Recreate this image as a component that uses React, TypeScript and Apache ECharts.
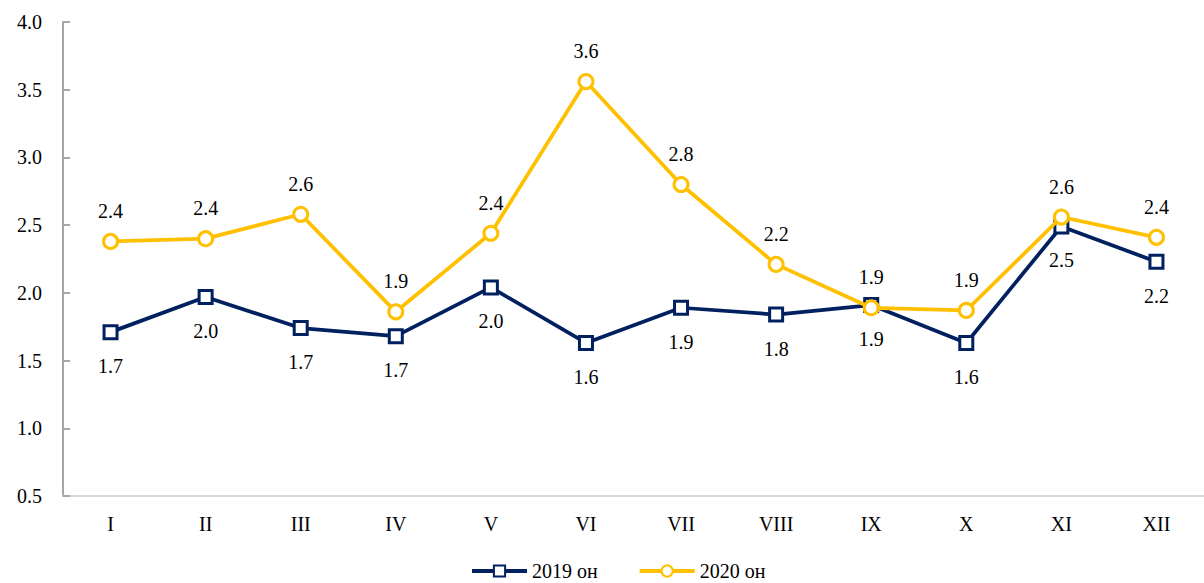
import React, { useEffect, useRef } from "react";
import * as echarts from "echarts";

const categories = ["I", "II", "III", "IV", "V", "VI", "VII", "VIII", "IX", "X", "XI", "XII"];
const series2019 = [1.71, 1.97, 1.74, 1.68, 2.04, 1.63, 1.89, 1.84, 1.91, 1.63, 2.49, 2.23];
const series2020 = [2.38, 2.4, 2.58, 1.86, 2.44, 3.56, 2.8, 2.21, 1.89, 1.87, 2.56, 2.41];
const yTicks = { min: 0.5, max: 4.0, interval: 0.5 };

const NAVY = "#002060";
const GOLD = "#ffc000";
const FONT = "Liberation Serif";

export default function App() {
  const ref = useRef<HTMLDivElement>(null);
  useEffect(() => {
    if (!ref.current) return;
    const chart = echarts.init(ref.current, null, { renderer: "svg" });
    chart.setOption({
      animation: false,
      textStyle: { fontFamily: FONT },
      grid: { left: 63, top: 22, width: 1152, height: 474, containLabel: false },
      legend: {
        top: 561,
        left: 470,
        padding: 0,
        itemWidth: 55,
        itemHeight: 14,
        itemGap: 40,
        lineStyle: { width: 4 },
        textStyle: { fontFamily: FONT, fontSize: 20, color: "#000" },
        data: ["2019 он", "2020 он"],
      },
      xAxis: {
        type: "category",
        data: categories,
        boundaryGap: true,
        axisLine: { lineStyle: { color: "#d9d9d9", width: 2 } },
        axisTick: { show: false },
        axisLabel: { fontFamily: FONT, fontSize: 20, color: "#000", margin: 18 },
        splitLine: { show: false },
      },
      yAxis: {
        type: "value",
        min: yTicks.min,
        max: yTicks.max,
        interval: yTicks.interval,
        axisLine: { show: true, lineStyle: { color: "#a6a6a6", width: 2 } },
        axisTick: { show: true, inside: true, length: 7, lineStyle: { color: "#a6a6a6", width: 2 } },
        axisLabel: {
          fontFamily: FONT,
          fontSize: 20,
          color: "#000",
          margin: 21,
          formatter: (v: number) => v.toFixed(1),
        },
        splitLine: { show: false },
      },
      series: [
        {
          name: "2019 он",
          type: "line",
          data: series2019,
          symbol: "rect",
          symbolSize: 13,
          lineStyle: { color: NAVY, width: 3.75 },
          itemStyle: { color: "#fff", borderColor: NAVY, borderWidth: 3 },
          label: {
            show: true,
            position: "bottom",
            distance: 16,
            fontFamily: FONT,
            fontSize: 20,
            color: "#000",
            formatter: (p: any) => Number(p.value).toFixed(1),
          },
          z: 2,
        },
        {
          name: "2020 он",
          type: "line",
          data: series2020,
          symbol: "circle",
          symbolSize: 14,
          lineStyle: { color: GOLD, width: 3.75 },
          itemStyle: { color: "#fff", borderColor: GOLD, borderWidth: 3 },
          label: {
            show: true,
            position: "top",
            distance: 12,
            fontFamily: FONT,
            fontSize: 20,
            color: "#000",
            formatter: (p: any) => Number(p.value).toFixed(1),
          },
          z: 3,
        },
      ],
    });
    return () => chart.dispose();
  }, []);
  return (
    <div
      ref={ref}
      style={{ position: "fixed", left: 0, top: 0, width: 1204, height: 583, background: "#fff" }}
    />
  );
}
